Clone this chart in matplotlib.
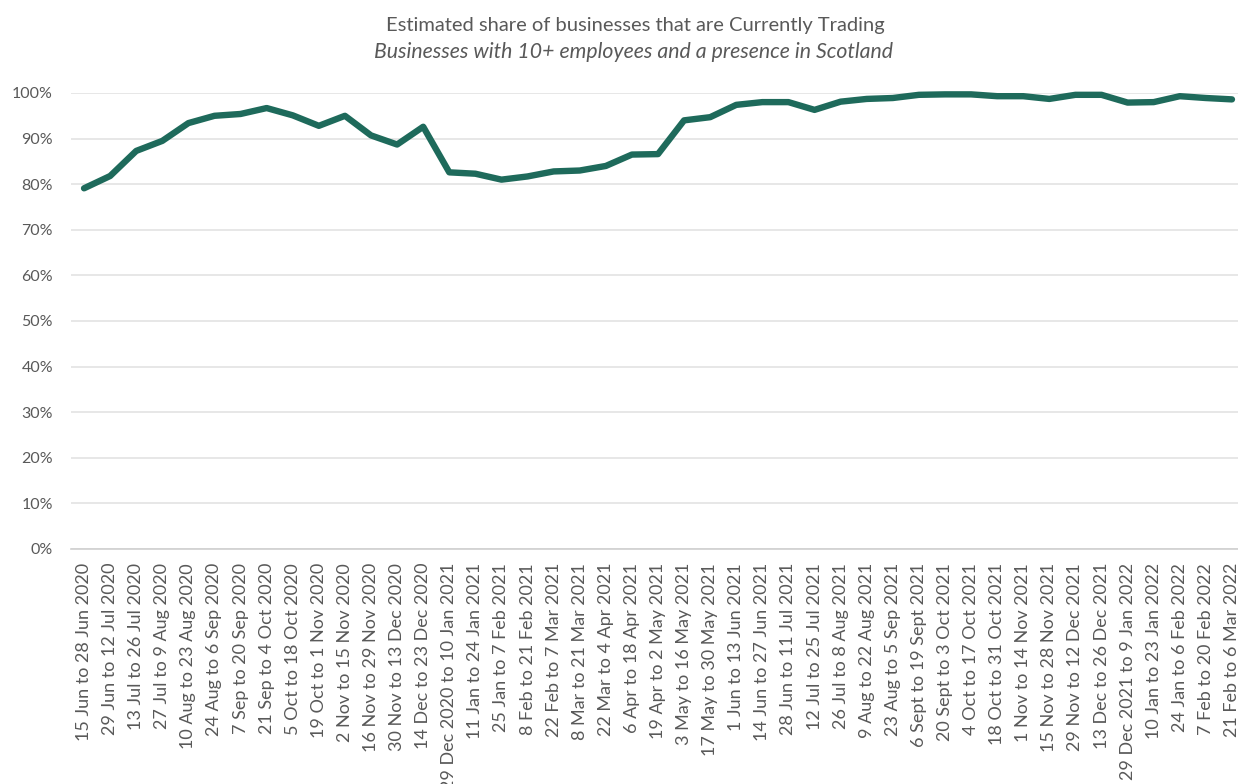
import numpy as np
import matplotlib.pyplot as plt
from matplotlib.ticker import PercentFormatter

periods = [
    '15 Jun to 28 Jun 2020', '29 Jun to 12 Jul 2020', '13 Jul to 26 Jul 2020',
    '27 Jul to 9 Aug 2020', '10 Aug to 23 Aug 2020', '24 Aug to 6 Sep 2020',
    '7 Sep to 20 Sep 2020', '21 Sep to 4 Oct 2020', '5 Oct to 18 Oct 2020',
    '19 Oct to 1 Nov 2020', '2 Nov to 15 Nov 2020', '16 Nov to 29 Nov 2020',
    '30 Nov to 13 Dec 2020', '14 Dec to 23 Dec 2020', '29 Dec 2020 to 10 Jan 2021',
    '11 Jan to 24 Jan 2021', '25 Jan to 7 Feb 2021', '8 Feb to 21 Feb 2021',
    '22 Feb to 7 Mar 2021', '8 Mar to 21 Mar 2021', '22 Mar to 4 Apr 2021',
    '6 Apr to 18 Apr 2021', '19 Apr to 2 May 2021', '3 May to 16 May 2021',
    '17 May to 30 May 2021', '1 Jun to 13 Jun 2021', '14 Jun to 27 Jun 2021',
    '28 Jun to 11 Jul 2021', '12 Jul to 25 Jul 2021', '26 Jul to 8 Aug 2021',
    '9 Aug to 22 Aug 2021', '23 Aug to 5 Sep 2021', '6 Sept to 19 Sept 2021',
    '20 Sept to 3 Oct 2021', '4 Oct to 17 Oct 2021', '18 Oct to 31 Oct 2021',
    '1 Nov to 14 Nov 2021', '15 Nov to 28 Nov 2021', '29 Nov to 12 Dec 2021',
    '13 Dec to 26 Dec 2021', '29 Dec 2021 to 9 Jan 2022', '10 Jan to 23 Jan 2022',
    '24 Jan to 6 Feb 2022', '7 Feb to 20 Feb 2022', '21 Feb to 6 Mar 2022',
]

# share of businesses currently trading (%)
trading = [
    79.1, 81.8, 87.3, 89.5, 93.4, 95.0, 95.4, 96.7, 95.1, 92.8,
    95.0, 90.7, 88.7, 92.6, 82.6, 82.3, 81.0, 81.7, 82.8, 83.0,
    84.0, 86.5, 86.6, 94.0, 94.7, 97.4, 98.0, 98.0, 96.3, 98.1,
    98.7, 98.9, 99.6, 99.7, 99.7, 99.3, 99.3, 98.7, 99.6, 99.6,
    97.9, 98.0, 99.3, 98.9, 98.6,
]

plt.rcParams['font.family'] = ['Lato', 'DejaVu Sans']
grey = '#595959'

fig = plt.figure(figsize=(12.38, 7.84), dpi=100)
W, H = 1238, 784
ax = fig.add_axes([71 / W, (H - 549) / H, (1245 - 71) / W, (549 - 93) / H])

x = np.arange(len(periods))
ax.plot(x, trading, color='#1E6A5B', linewidth=4.6,
        solid_capstyle='round', solid_joinstyle='round', clip_on=False, zorder=3)

ax.set_xlim(-0.5, len(periods) - 0.5)
ax.set_ylim(0, 100)
ax.set_yticks(np.arange(0, 101, 10))
ax.yaxis.set_major_formatter(PercentFormatter(decimals=0))
ax.set_xticks(x)
ax.set_xticklabels(periods, rotation=90, va='top', ha='center')

ax.grid(axis='y', color='#E3E3E3', linewidth=1.2)
ax.set_axisbelow(True)
for side in ['top', 'right', 'left']:
    ax.spines[side].set_visible(False)
ax.spines['bottom'].set_color('#D0D0D0')
ax.spines['bottom'].set_linewidth(1.2)

ax.tick_params(axis='y', length=0, pad=13, labelsize=11.5, labelcolor=grey)
ax.tick_params(axis='x', length=0, pad=10, labelsize=13, labelcolor=grey)

fig.text(635 / W, 1 - 25 / H, 'Estimated share of businesses that are Currently Trading',
         ha='center', va='center', fontsize=14.5, color=grey)
fig.text(633 / W, 1 - 52 / H, 'Businesses with 10+ employees and a presence in Scotland',
         ha='center', va='center', fontsize=15.3, color=grey, style='italic')

fig.savefig('out.png', dpi=100)
